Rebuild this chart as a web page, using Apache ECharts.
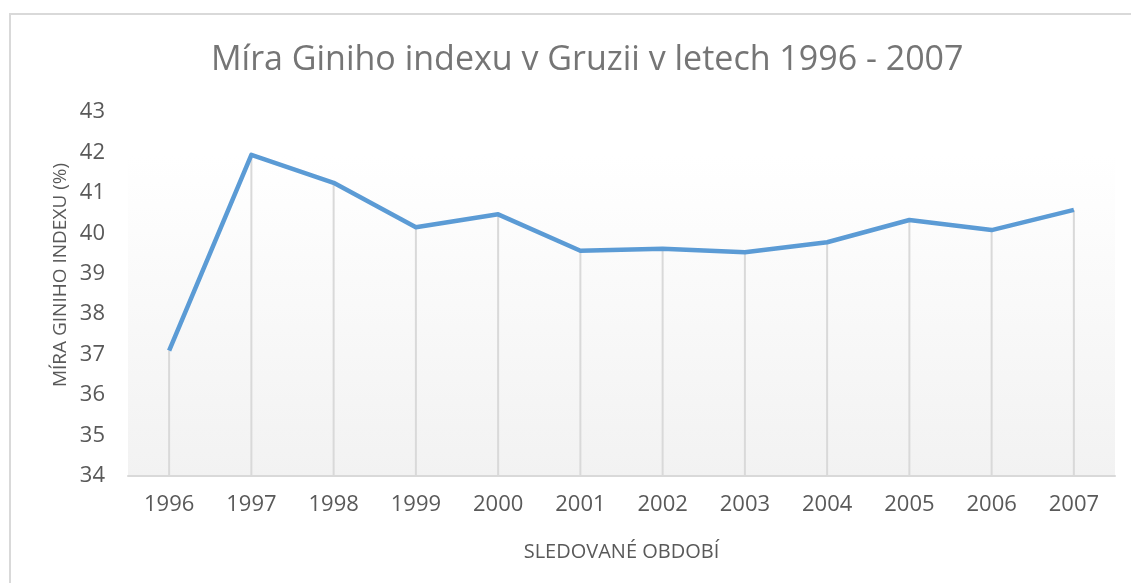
<!DOCTYPE html>
<html>
<head>
<meta charset="utf-8">
<script src="https://cdn.jsdelivr.net/npm/echarts@6/dist/echarts.min.js"></script>
<style>
    html, body { margin: 0; padding: 0; background: #fff; }
    #chart { width: 1131px; height: 583px; }
</style>
</head>
<body>
<div id="chart"></div>
<script>
var years = ['1996', '1997', '1998', '1999', '2000', '2001', '2002', '2003', '2004', '2005', '2006', '2007'];
var giniValues = [37.1, 41.94, 41.25, 40.15, 40.47, 39.57, 39.62, 39.53, 39.78, 40.33, 40.08, 40.58];
var yTicks = { min: 34, max: 43, interval: 1 };

var chart = echarts.init(document.getElementById('chart'));
var font = '"Open Sans", sans-serif';

chart.setOption({
    animation: false,
    title: {
        text: 'Míra Giniho indexu v Gruzii v letech 1996 - 2007',
        left: 206,
        top: 38,
        textStyle: { fontFamily: font, fontSize: 34, fontWeight: 'normal', color: '#757575' }
    },
    grid: {
        left: 128, right: 16, top: 112, bottom: 107,
        show: true,
        borderWidth: 0,
        backgroundColor: new echarts.graphic.LinearGradient(0, 0, 0, 1, [
            { offset: 0, color: '#ffffff' },
            { offset: 0.12, color: '#ffffff' },
            { offset: 1, color: '#f2f2f2' }
        ])
    },
    graphic: [{
        type: 'rect',
        shape: { x: 10, y: 14, width: 1300, height: 700 },
        style: { fill: 'none', stroke: '#d9d9d9', lineWidth: 2 }
    }, {
        type: 'text',
        x: 61, y: 275,
        rotation: Math.PI / 2,
        style: {
            text: 'MÍRA GINIHO INDEXU (%)',
            fontFamily: font, fontSize: 19, fill: '#595959',
            align: 'center', verticalAlign: 'middle'
        }
    }],
    xAxis: {
        type: 'category',
        data: years,
        boundaryGap: true,
        name: 'SLEDOVANÉ OBDOBÍ',
        nameLocation: 'middle',
        nameGap: 66,
        nameTextStyle: { fontFamily: font, fontSize: 20, color: '#595959' },
        axisLine: { lineStyle: { color: '#d9d9d9', width: 2 } },
        axisTick: { show: false },
        axisLabel: { fontFamily: font, fontSize: 22, color: '#595959', margin: 18 },
        splitLine: { show: false }
    },
    yAxis: {
        type: 'value',
        min: yTicks.min,
        max: yTicks.max,
        interval: yTicks.interval,
        axisLine: { show: false },
        axisTick: { show: false },
        axisLabel: { fontFamily: font, fontSize: 22, color: '#595959', margin: 23 },
        splitLine: { show: false }
    },
    series: [{
        // drop lines from each point down to the axis
        type: 'bar',
        data: giniValues,
        barWidth: 2,
        itemStyle: { color: '#d9d9d9' },
        silent: true
    }, {
        type: 'line',
        data: giniValues,
        showSymbol: false,
        symbol: 'none',
        lineStyle: { color: '#5b9bd5', width: 4.5, join: 'round' },
        z: 5
    }]
});
</script>
</body>
</html>
